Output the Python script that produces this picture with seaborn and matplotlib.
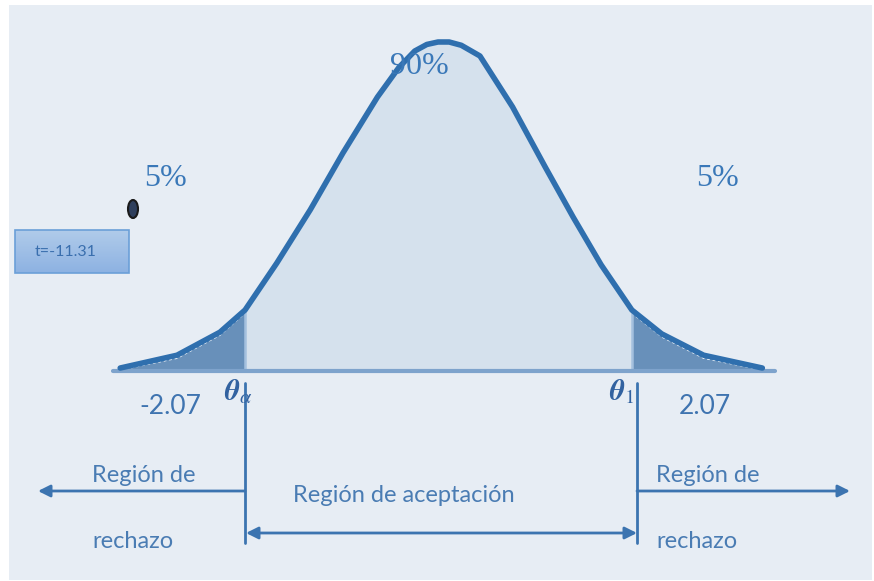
import numpy as np
import pandas as pd
import matplotlib
matplotlib.use("Agg")
import matplotlib.pyplot as plt
import seaborn as sns
from matplotlib.patches import Rectangle, Ellipse
from matplotlib.colors import LinearSegmentedColormap

# ---- data ----
z_vals = [-3.41, -2.80, -2.34, -2.07, -1.73, -1.37, -1.02, -0.65, -0.42, -0.25, -0.12, 0.00,
          0.12, 0.25, 0.45, 0.80, 1.15, 1.45, 1.75, 2.08, 2.40, 2.85, 3.48]
dens_vals = [0.0024, 0.018, 0.046, 0.073, 0.130, 0.195, 0.264, 0.332, 0.368, 0.388, 0.396, 0.399,
             0.399, 0.395, 0.382, 0.320, 0.247, 0.186, 0.128, 0.073, 0.044, 0.018, 0.0024]
z_left, z_right = -2.07, 2.08
tail_pct = ["5%", "5%"]
center_pct = "90%"
crit_labels = ["-2.07", "2.07"]
t_label = "t=-11.31"
region_labels = ["Región de", "rechazo", "Región de aceptación"]

df = pd.DataFrame({"z": z_vals, "dens": dens_vals})

W, H = 874, 581
sns.set_theme(style="white")
plt.rcParams["mathtext.fontset"] = "stix"
fig = plt.figure(figsize=(W / 100, H / 100), dpi=100)
fig.patch.set_facecolor("white")

# pixel overlay axes (background + annotations)
bg = fig.add_axes([0, 0, 1, 1])
bg.set_xlim(0, W); bg.set_ylim(H, 0); bg.axis("off")
bg.add_patch(Rectangle((9, 5), 863, 575, facecolor="#e7edf4", edgecolor="none", zorder=0))

# curve axes, mapped so that z=0 -> px 438, baseline -> py 370
ax = fig.add_axes([0, 0, 1, 1])
ax.patch.set_alpha(0)
pxu = 93.2
du = 0.399 / 328
ax.set_xlim((0 - 438) / pxu, (W - 438) / pxu)
ax.set_ylim((370 - H) * du, 370 * du)
ax.axis("off")

zz = np.array(z_vals); dd = np.array(dens_vals)
mid = (zz >= z_left) & (zz <= z_right)
lt = zz <= z_left
rt = zz >= z_right
ax.fill_between(zz[mid], 0, dd[mid], color="#d5e1ed", lw=0, zorder=1)
ax.fill_between(zz[lt], 0, dd[lt], color="#6890ba", lw=0, zorder=1)
ax.fill_between(zz[rt], 0, dd[rt], color="#6890ba", lw=0, zorder=1)
# white dotted highlight inside tails
ax.plot(zz[lt], np.maximum(dd[lt] - 3 * du, 0), color="white", lw=1, ls=(0, (2, 2)), zorder=2)
ax.plot(zz[rt], np.maximum(dd[rt] - 3 * du, 0), color="white", lw=1, ls=(0, (2, 2)), zorder=2)
# cut lines
ax.plot([z_left, z_left], [0, dd[zz == z_left][0]], color="#a4c0de", lw=1.8, zorder=2)
ax.plot([z_right, z_right], [0, dd[zz == z_right][0]], color="#a4c0de", lw=1.8, zorder=2)
# baseline
ax.plot([(113 - 438) / pxu, (775 - 438) / pxu], [-1 * du, -1 * du], color="#7ea3cc", lw=3, zorder=2)
sns.lineplot(data=df, x="z", y="dens", ax=ax, color="#2f6fae", lw=4, sort=False, zorder=3,
             solid_joinstyle="round", solid_capstyle="round")
ax.set_xlabel(""); ax.set_ylabel("")

# annotations on pixel overlay (draw on top)
ov = fig.add_axes([0, 0, 1, 1])
ov.patch.set_alpha(0)
ov.set_xlim(0, W); ov.set_ylim(H, 0); ov.axis("off")

serif = "Liberation Serif"
sans = "Lato"
tc = "#3a78b8"
ov.text(419, 67, center_pct, fontsize=23, family=serif, color=tc, ha="center", va="center")
ov.text(165, 178, tail_pct[0], fontsize=23, family=serif, color=tc, ha="center", va="center")
ov.text(718, 178, tail_pct[1], fontsize=23, family=serif, color=tc, ha="center", va="center")

ov.add_patch(Ellipse((133, 209), 10, 18, facecolor="#2f3f5c", edgecolor="#1a1a1a", lw=1.5, zorder=5))

grad = np.linspace(0, 1, 50).reshape(-1, 1)
cm = LinearSegmentedColormap.from_list("g", ["#b0cbea", "#8db2e2"])
ov.imshow(grad, extent=(15, 129, 273, 230), cmap=cm, aspect="auto", zorder=4)
ov.add_patch(Rectangle((15, 230), 114, 43, facecolor="none", edgecolor="#6b9fd8", lw=1.2, zorder=5))
ov.text(66, 252, t_label, fontsize=11.5, family=sans, color="#3a6fae", ha="center", va="center", zorder=6)
ov.set_xlim(0, W); ov.set_ylim(H, 0)

lc = "#3f74b0"
ov.text(170, 406, crit_labels[0], fontsize=19, family=sans, color=lc, ha="center", va="center")
ov.text(705, 406, crit_labels[1], fontsize=19, family=sans, color=lc, ha="center", va="center")
ov.text(238, 392, r"$\boldsymbol{\theta}_{\alpha}$", fontsize=21, color="#3262a0", ha="center", va="center")
ov.text(622, 392, r"$\boldsymbol{\theta}_{1}$", fontsize=21, color="#3262a0", ha="center", va="center")

ac = "#3c74b0"
ov.plot([245, 245], [383, 543], color=ac, lw=2)
ov.plot([637, 637], [383, 543], color=ac, lw=2)
ov.annotate("", xy=(38, 491), xytext=(245, 491),
            arrowprops=dict(arrowstyle="-|>", color=ac, lw=2, mutation_scale=18, shrinkA=0, shrinkB=0))
ov.annotate("", xy=(850, 491), xytext=(637, 491),
            arrowprops=dict(arrowstyle="-|>", color=ac, lw=2, mutation_scale=18, shrinkA=0, shrinkB=0))
ov.annotate("", xy=(246, 533), xytext=(637, 533),
            arrowprops=dict(arrowstyle="<|-|>", color=ac, lw=2, mutation_scale=18, shrinkA=0, shrinkB=0))

rc = "#4a7cb3"
ov.text(92, 475, region_labels[0], fontsize=17, family=sans, color=rc, ha="left", va="center")
ov.text(92, 541, region_labels[1], fontsize=17, family=sans, color=rc, ha="left", va="center")
ov.text(656, 475, region_labels[0], fontsize=17, family=sans, color=rc, ha="left", va="center")
ov.text(656, 541, region_labels[1], fontsize=17, family=sans, color=rc, ha="left", va="center")
ov.text(404, 496, region_labels[2], fontsize=17, family=sans, color=rc, ha="center", va="center")

fig.savefig("out.png", dpi=100, facecolor="white")
